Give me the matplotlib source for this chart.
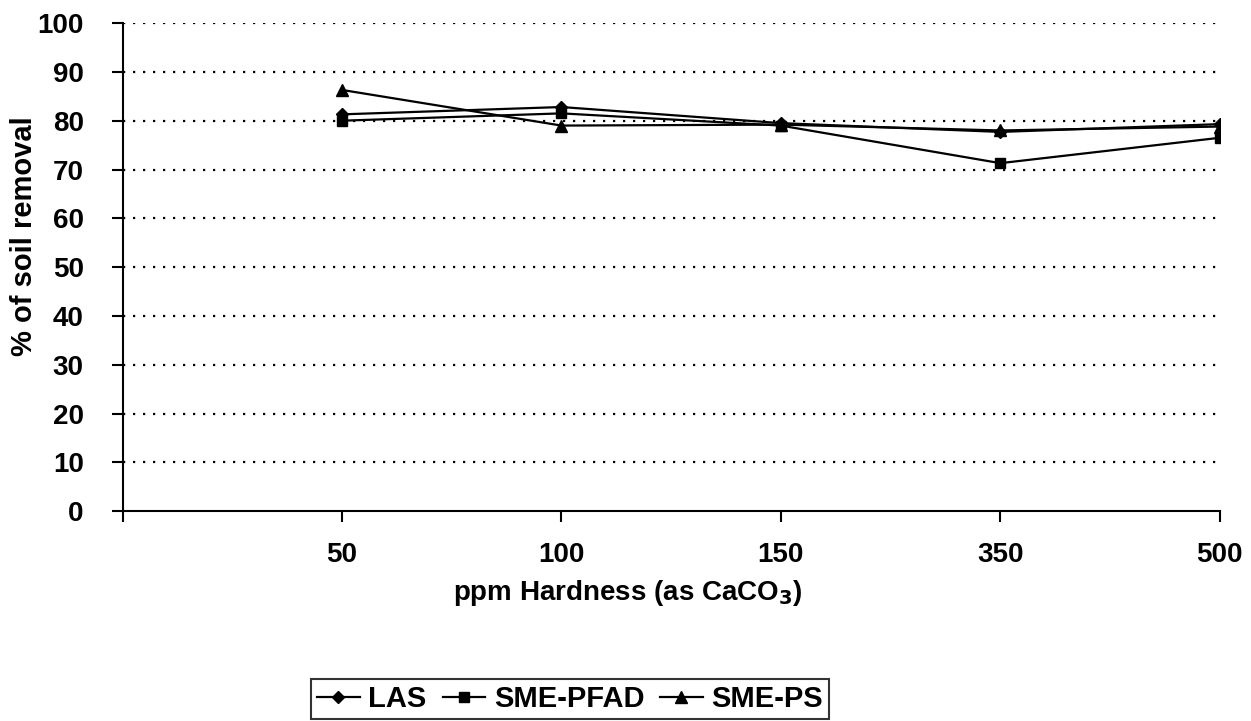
import numpy as np
import matplotlib
matplotlib.use('Agg')
import matplotlib.pyplot as plt

plt.rcParams['font.family'] = ['Liberation Sans', 'DejaVu Sans']
plt.rcParams['font.weight'] = 'bold'

hardness = ['50', '100', '150', '350', '500']
las = [81.3, 82.8, 79.5, 77.7, 79.3]
sme_pfad = [80.0, 81.5, 79.0, 71.3, 76.5]
sme_ps = [86.3, 79.0, 79.2, 78.0, 78.8]

fig = plt.figure(figsize=(12.51, 7.21), dpi=100)
ax = fig.add_axes([0.098, 0.291, 0.877, 0.677])

x = np.arange(1, len(hardness) + 1)
ax.plot(x, las, color='black', lw=1.6, marker='D', ms=6, label='LAS')
ax.plot(x, sme_pfad, color='black', lw=1.6, marker='s', ms=6.5, label='SME-PFAD')
ax.plot(x, sme_ps, color='black', lw=1.6, marker='^', ms=8, label='SME-PS')

ax.set_xlim(0, len(hardness))
ax.set_ylim(0, 100)
ax.set_yticks(np.arange(0, 101, 10))
ax.set_xticks(np.arange(0, len(hardness) + 1), [''] + hardness)

# dotted gridlines
for yv in range(10, 101, 10):
    ax.axhline(yv, color='black', lw=1.6, linestyle=(0, (1, 3.5)), zorder=0)

ax.spines['top'].set_visible(False)
ax.spines['right'].set_visible(False)
ax.spines['left'].set_linewidth(1.5)
ax.spines['bottom'].set_linewidth(1.5)
ax.tick_params(axis='both', direction='out', length=8, width=1.5, labelsize=20)
ax.tick_params(axis='x', pad=14)
ax.tick_params(axis='y', pad=20)

fig.text(0.019, 0.673, '% of soil removal', fontsize=21, fontweight='bold',
         rotation=90, ha='center', va='center')
fig.text(0.502, 0.178, 'ppm Hardness (as CaCO$_\\mathbf{3}$)', fontsize=20,
         fontweight='bold', ha='center', va='center')

leg = fig.legend(loc='upper left', bbox_to_anchor=(0.249, 0.058), ncol=3,
                 fontsize=21, frameon=True, fancybox=False, handlelength=1.45,
                 handletextpad=0.3, columnspacing=0.55, borderpad=0.2,
                 borderaxespad=0.0)
leg.get_frame().set_edgecolor('black')
leg.get_frame().set_linewidth(1.5)

fig.savefig('out.png', dpi=100)
